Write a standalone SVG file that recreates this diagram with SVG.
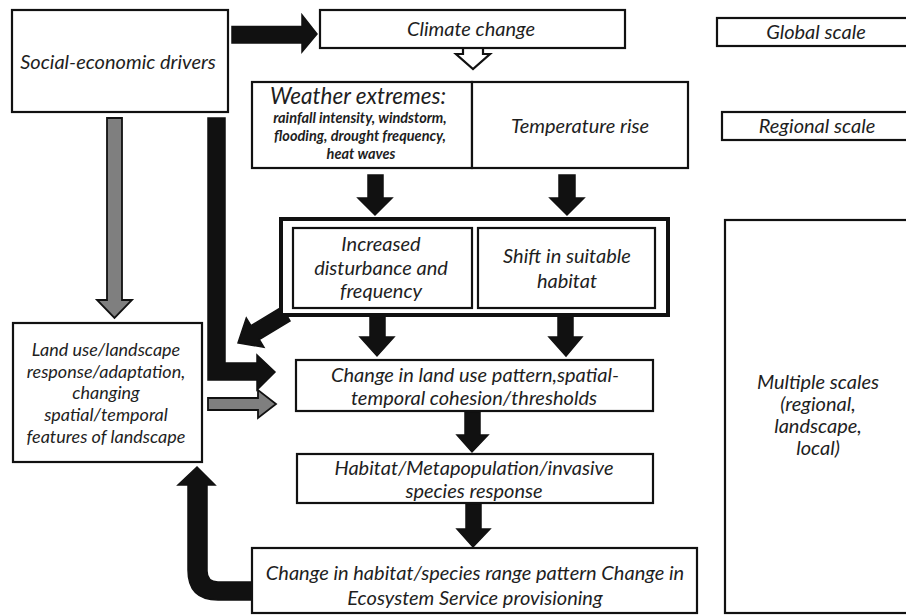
<svg xmlns="http://www.w3.org/2000/svg" width="906" height="616" viewBox="0 0 906 616">
<style>
.box{fill:#fff;stroke:#111;stroke-width:2.2}
.t{font-family:Lato,"Liberation Sans",sans-serif;font-style:italic;fill:#1e1e1e;text-anchor:middle;font-size:20px}
.w{font-size:22.5px}
.l{font-size:18px}
.s{font-family:Lato,"Liberation Sans",sans-serif;font-style:italic;font-weight:bold;fill:#1e1e1e;text-anchor:middle;font-size:14.5px}
.blk{fill:#111;stroke:#111;stroke-width:1.5;stroke-linejoin:miter}
.gry{fill:#7f7f7f;stroke:#111;stroke-width:1.8;stroke-linejoin:miter}
.hol{fill:#fff;stroke:#111;stroke-width:2.2;stroke-linejoin:miter}
</style>
<rect width="906" height="616" fill="#fff"/>
<g id="connectors">
<polygon class="blk" points="232,26.5 302,26.5 302,15 317,34 302,52 302,43 232,43"/>
<polygon class="hol" points="463,47 463,54 456,54 473,69 490,54 483,54 483,47"/>
<polygon class="blk" points="368,175 383,175 383,198 392,198 375,215 358,198 368,198"/>
<polygon class="blk" points="559,175 575,175 575,198 584,198 567,215 550,198 559,198"/>
<polygon class="blk" points="370,316 385,316 385,337 394,337 377,356 360,337 370,337"/>
<polygon class="blk" points="558,316 573,316 573,337 582,337 566,356 549,337 558,337"/>
<polygon class="blk" points="465,412 480,412 480,435 488,435 472,452 457,435 465,435"/>
<polygon class="blk" points="466,504 481,504 481,529 490,529 473,547 457,529 466,529"/>
<polygon class="gry" points="107,118 122,118 122,300 132,300 114.5,318 97,300 107,300"/>
<polygon class="blk" points="208,118 225,118 225,363 257,363 257,355 275,372 257,390 257,380 208,380"/>
<polygon class="gry" points="208,398 258,398 258,390 276,404 258,418 258,410 208,410"/>
<polygon class="blk" points="282,307 251,325.7 246.3,318 238,343 263.9,347.2 259.2,339.5 290,321"/>
<path class="blk" d="M252,582 L218,582 Q207,582 207,571 L207,485 L215,485 L197,467 L178,485 L188,485 L188,570 Q188,600 218,600 L252,600 Z"/>
</g>
<g id="social">
<rect class="box" x="12" y="10" width="216" height="102"/>
<text class="t" x="118" y="69">Social-economic drivers</text>
</g>
<g id="climate">
<rect class="box" x="320" y="10" width="305" height="38"/>
<text class="t" x="471" y="36">Climate change</text>
</g>
<g id="weather">
<rect class="box" x="252" y="82" width="220" height="86"/>
<text class="t w" x="358" y="104">Weather extremes:</text>
<text class="s" x="360" y="123">rainfall intensity, windstorm,</text>
<text class="s" x="360" y="141">flooding, drought frequency,</text>
<text class="s" x="361" y="159">heat waves</text>
</g>
<g id="temperature">
<rect class="box" x="472" y="82" width="216" height="86"/>
<text class="t" x="580" y="133">Temperature rise</text>
</g>
<g id="global">
<rect class="box" x="717" y="18" width="200" height="28"/>
<text class="t" x="816" y="39">Global scale</text>
</g>
<g id="regional">
<rect class="box" x="722" y="112" width="200" height="28"/>
<text class="t" x="817" y="133">Regional scale</text>
</g>
<g id="impacts">
<rect x="281" y="219" width="387" height="96" fill="#fff" stroke="#111" stroke-width="4"/>
</g>
<g id="disturbance">
<rect class="box" x="293" y="228" width="179" height="80"/>
<text class="t" x="381" y="251">Increased</text>
<text class="t" x="381" y="275">disturbance and</text>
<text class="t" x="381" y="298">frequency</text>
</g>
<g id="shift">
<rect class="box" x="478" y="228" width="177" height="80"/>
<text class="t" x="567" y="263">Shift in suitable</text>
<text class="t" x="567" y="288">habitat</text>
</g>
<g id="landuse-change">
<rect class="box" x="296" y="360" width="357" height="51"/>
<text class="t" x="475" y="382">Change in land use pattern,spatial-</text>
<text class="t" x="474" y="405">temporal cohesion/thresholds</text>
</g>
<g id="habitat">
<rect class="box" x="297" y="454" width="356" height="49"/>
<text class="t" x="474" y="475">Habitat/Metapopulation/invasive</text>
<text class="t" x="474" y="498">species response</text>
</g>
<g id="range">
<rect class="box" x="252" y="548" width="445" height="65"/>
<text class="t" x="475" y="580">Change in habitat/species range pattern Change in</text>
<text class="t" x="475" y="605">Ecosystem Service provisioning</text>
</g>
<g id="landscape">
<rect class="box" x="13" y="323" width="189" height="139"/>
<text class="t l" x="106" y="356">Land use/landscape</text>
<text class="t l" x="106" y="378">response/adaptation,</text>
<text class="t l" x="106" y="399">changing</text>
<text class="t l" x="106" y="421">spatial/temporal</text>
<text class="t l" x="106" y="443">features of landscape</text>
</g>
<g id="multiple">
<rect class="box" x="725" y="220" width="200" height="393"/>
<text class="t" x="818" y="389">Multiple scales</text>
<text class="t" x="818" y="411">(regional,</text>
<text class="t" x="818" y="433">landscape,</text>
<text class="t" x="818" y="455">local)</text>
</g>
</svg>
